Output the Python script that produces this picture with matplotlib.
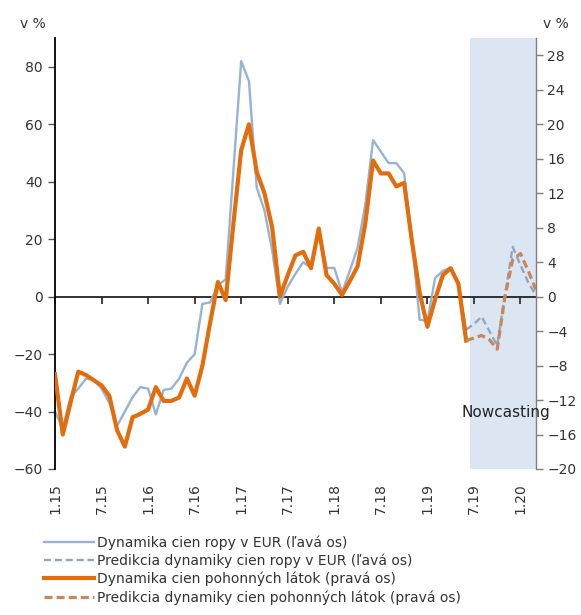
import numpy as np
import matplotlib
matplotlib.use('Agg')
import matplotlib.pyplot as plt
from matplotlib.lines import Line2D

plt.rcParams['font.family'] = ['DejaVu Sans']

# mesačné údaje od 1.15 (index 0) do 3.20 (index 62)
ropa = [-40, -46, -35, -32, -28.5, -29, -32, -37, -45, -40,
        -35, -31.5, -32, -41, -32.5, -32, -28.5, -23, -20, -2.5,
        -2, 4, 6, 44, 82, 75, 38, 30, 16, -2.5,
        3.5, 8, 12, 10, 23, 10, 10, 1.5, 9, 17,
        32, 54.5, 50.5, 46.5, 46.5, 43, 20, -8, -8.5, 6.5,
        9, 10, 4, -11.5]
ropa_pred = [-11.5, -9.5, -7, -12, -17, 0.5, 17.3, 11, 5, 0.5]

pohonne = [-9.0, -16.0, -12.3, -8.7, -9.1, -9.7, -10.3, -11.5, -15.5, -17.4,
           -14.0, -13.6, -13.1, -10.5, -12.1, -12.1, -11.7, -9.5, -11.5, -8.0,
           -3.0, 1.7, -0.4, 8.5, 17, 20, 14.5, 12, 8, 0,
           2.5, 4.8, 5.2, 3.3, 7.9, 2.5, 1.5, 0.2, 1.8, 3.5,
           8.5, 15.8, 14.3, 14.3, 12.8, 13.2, 6.5, 0.5, -3.5, -0.3,
           2.5, 3.3, 1.5, -5.1]
pohonne_pred = [-5.1, -4.8, -4.5, -5.0, -6.1, 0, 4.3, 5.0, 3.0, 0.8]

tick_labels = ['1.15', '7.15', '1.16', '7.16', '1.17', '7.17',
               '1.18', '7.18', '1.19', '7.19', '1.20']
nowcast_od = 54   # 7.19

x = np.arange(len(ropa))
x_pred = np.arange(len(ropa) - 1, len(ropa) - 1 + len(ropa_pred))

c_blue = '#95B3D7'
c_blue_d = '#8EA6C4'
c_orange = '#E46C0A'
c_orange_d = '#C88659'
c_text = '#333333'

fig = plt.figure(figsize=(5.81, 6.15), dpi=100)
ax = fig.add_axes([0.0947, 0.2374, 0.8278, 0.7006])
ax2 = ax.twinx()

ax.axvspan(nowcast_od - 0.5, x_pred[-1], color='#DCE6F2', zorder=0, lw=0)
ax.axhline(0, color='#222222', lw=1.3, zorder=1)

ax.plot(x, ropa, color=c_blue, lw=1.7, zorder=2)
ax.plot(x_pred, ropa_pred, color=c_blue_d, lw=1.7, ls=(0, (3, 1.6)), zorder=2)
ax2.plot(x, pohonne, color=c_orange, lw=3.0, zorder=3)
ax2.plot(x_pred, pohonne_pred, color=c_orange_d, lw=2.3, ls=(0, (2.5, 1.3)), zorder=3)

ax.set_xlim(0, x_pred[-1])
ax.set_ylim(-60, 90)
ax2.set_ylim(-20, 30)
ax.set_yticks(np.arange(-60, 81, 20))
ax2.set_yticks(np.arange(-20, 29, 4))

for s in ['top', 'bottom']:
    ax.spines[s].set_visible(False)
    ax2.spines[s].set_visible(False)
ax2.spines['left'].set_visible(False)
ax.spines['right'].set_visible(False)
ax.spines['left'].set_color('black')
ax.spines['left'].set_linewidth(1.3)
ax2.spines['right'].set_color('#7F7F7F')
ax2.spines['right'].set_linewidth(1.0)

ax.tick_params(axis='y', direction='out', length=5, width=1, colors='#555555',
               labelcolor=c_text, labelsize=10, pad=4)
ax2.tick_params(axis='y', direction='out', length=5, width=1, colors='#7F7F7F',
                labelcolor=c_text, labelsize=10, pad=3)

# ciarky na nulovej osi
ax.set_xticks(np.arange(0, 61, 6))
ax.xaxis.set_ticks_position('bottom')
ax.spines['bottom'].set_position(('data', 0))
ax.tick_params(axis='x', direction='out', length=5, width=1.2, colors='#222222',
               labelbottom=False)

# popisky pod grafom
sec = ax.secondary_xaxis('bottom')
sec.set_xticks(np.arange(0, 61, 6), tick_labels, rotation=90)
sec.spines['bottom'].set_visible(False)
sec.tick_params(axis='x', length=0, pad=10, labelsize=10, labelcolor=c_text)

fig.text(0.035, 0.955, 'v %', fontsize=10, color=c_text)
fig.text(0.935, 0.955, 'v %', fontsize=10, color=c_text)

ax2.text(58.1, -13.4, 'Nowcasting', ha='center', va='center', fontsize=11,
         color='#222222', clip_on=False, zorder=5)

handles = [
    Line2D([], [], color=c_blue, lw=1.7),
    Line2D([], [], color=c_blue_d, lw=1.7, ls=(0, (3, 1.6))),
    Line2D([], [], color=c_orange, lw=3.0),
    Line2D([], [], color=c_orange_d, lw=2.3, ls=(0, (2.5, 1.3))),
]
labels = ['Dynamika cien ropy v EUR (ľavá os)',
          'Predikcia dynamiky cien ropy v EUR (ľavá os)',
          'Dynamika cien pohonných látok (pravá os)',
          'Predikcia dynamiky cien pohonných látok (pravá os)']
leg = fig.legend(handles, labels, loc='upper left', bbox_to_anchor=(0.076, 0.130),
                 frameon=False, fontsize=10, handlelength=3.6, handletextpad=0.2,
                 labelspacing=0.28, borderpad=0, borderaxespad=0)
for t in leg.get_texts():
    t.set_color(c_text)

fig.savefig('out.png', dpi=100)
